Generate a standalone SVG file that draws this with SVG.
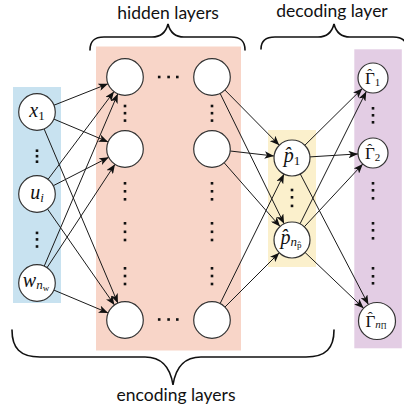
<svg xmlns="http://www.w3.org/2000/svg" width="404" height="409" viewBox="0 0 404 409">
  <style>
    .node { fill: #ffffff; stroke: #333333; stroke-width: 1.2; }
    .edge { stroke: #1a1a1a; stroke-width: 1; fill: none; marker-end: url(#arrow); }
    .brace { stroke: #111111; stroke-width: 1.6; fill: none; stroke-linecap: round; }
    .caption { font-family: Lato, "Liberation Sans", sans-serif; font-size: 17.5px; fill: #111111; text-anchor: middle; }
    .math { font-family: "Liberation Serif", "DejaVu Serif", serif; fill: #111111; text-anchor: middle; font-size: 20px; }
    .gam { font-family: "Liberation Serif", "DejaVu Serif", serif; fill: #111111; font-size: 17px; }
    .it { font-style: italic; }
    .sub { font-size: 13px; }
    .subsub { font-size: 9px; }
    .hat { font-size: 15px; }
    .dot { fill: #111111; }
  </style>
  <defs>
    <marker id="arrow" viewBox="0 0 10 8" refX="10" refY="4" markerWidth="9.5" markerHeight="7.6" markerUnits="userSpaceOnUse" orient="auto">
      <path d="M0,0 L10,4 L0,8 L2.5,4 z" fill="#111111"/>
    </marker>
    <rect id="d" width="2.6" height="2.6"/>
  </defs>

  <!-- layer backgrounds -->
  <rect x="13" y="87" width="48" height="216" fill="#c8e2f0"/>
  <rect x="96" y="46.5" width="145" height="304" fill="#f8d5c8"/>
  <rect x="268" y="130" width="48" height="137" fill="#fbf0cc"/>
  <rect x="354.3" y="49.3" width="47.5" height="299" fill="#e3cde4"/>

  <!-- braces and captions -->
  <g id="brace-hidden">
    <path class="brace" d="M90,50 C90,41 94,37 104,37 L152,37 C161,37 166,32 168,24 C170,32 175,37 184,37 L231,37 C241,37 245,41 245,50"/>
    <text class="caption" x="168" y="19">hidden layers</text>
  </g>
  <g id="brace-decoding">
    <path class="brace" d="M261,49 C261,41 265,37 275,37 L318,37 C327,37 332,32 334,24 C336,32 341,37 350,37 L393,37 C403,37 407,41 407,49"/>
    <text class="caption" x="332" y="17">decoding layer</text>
  </g>
  <g id="brace-encoding">
    <path class="brace" d="M12,330 C12,348 20,357 40,357 L145,357 C160,357 170,365 173,385 C176,365 186,357 201,357 L306,357 C326,357 334,348 334,330"/>
    <text class="caption" x="176" y="401">encoding layers</text>
  </g>

  <!-- connectors -->
  <g id="edges">
    <line class="edge" x1="54.0" y1="105.2" x2="108.0" y2="83.8"/>
    <line class="edge" x1="53.9" y1="119.1" x2="108.1" y2="141.9"/>
    <line class="edge" x1="44.1" y1="128.9" x2="117.9" y2="303.2"/>
    <line class="edge" x1="48.0" y1="179.4" x2="114.0" y2="91.6"/>
    <line class="edge" x1="53.3" y1="185.7" x2="108.7" y2="157.3"/>
    <line class="edge" x1="47.5" y1="209.0" x2="114.5" y2="305.0"/>
    <line class="edge" x1="44.2" y1="266.2" x2="117.8" y2="93.8"/>
    <line class="edge" x1="47.0" y1="267.7" x2="115.0" y2="164.3"/>
    <line class="edge" x1="53.9" y1="290.1" x2="108.1" y2="312.9"/>

    <line class="edge" x1="224.9" y1="90.0" x2="279.3" y2="145.2"/>
    <line class="edge" x1="220.1" y1="93.4" x2="284.1" y2="223.8"/>
    <line class="edge" x1="230.2" y1="151.0" x2="274.1" y2="156.0"/>
    <line class="edge" x1="224.1" y1="162.7" x2="280.1" y2="226.5"/>
    <line class="edge" x1="220.1" y1="303.6" x2="284.0" y2="174.1"/>
    <line class="edge" x1="224.9" y1="307.1" x2="279.3" y2="252.7"/>

    <line class="edge" x1="304.8" y1="145.3" x2="362.3" y2="88.5"/>
    <line class="edge" x1="310.0" y1="156.9" x2="358.0" y2="153.9"/>
    <line class="edge" x1="300.3" y1="174.0" x2="368.4" y2="304.6"/>
    <line class="edge" x1="300.0" y1="223.9" x2="366.3" y2="91.4"/>
    <line class="edge" x1="304.3" y1="226.8" x2="362.8" y2="164.0"/>
    <line class="edge" x1="305.0" y1="252.4" x2="363.6" y2="308.2"/>
  </g>

  <!-- input layer -->
  <g id="in-x1">
    <circle class="node" cx="37" cy="112" r="18.3"/>
    <text class="math" x="37" y="117"><tspan class="it">x</tspan><tspan class="sub" dy="3">1</tspan></text>
  </g>
  <g id="in-ui">
    <circle class="node" cx="37" cy="194" r="18.3"/>
    <text class="math" x="37" y="199"><tspan class="it">u</tspan><tspan class="sub it" dy="3">i</tspan></text>
  </g>
  <g id="in-w">
    <circle class="node" cx="37" cy="283" r="18.3"/>
    <text class="math" x="36" y="287"><tspan class="it">w</tspan><tspan class="sub it" dy="2">n</tspan><tspan class="subsub" dy="2">w</tspan></text>
  </g>
  <g id="in-dots">
    <use href="#d" class="dot" x="35.7" y="149.4"/>
    <use href="#d" class="dot" x="35.7" y="154.9"/>
    <use href="#d" class="dot" x="35.7" y="160.4"/>
    <use href="#d" class="dot" x="35.7" y="231.6"/>
    <use href="#d" class="dot" x="35.7" y="238.1"/>
    <use href="#d" class="dot" x="35.7" y="245.2"/>
  </g>

  <!-- encoding layers -->
  <g id="h-1-1"><circle class="node" cx="125" cy="77" r="18.3"/></g>
  <g id="h-1-2"><circle class="node" cx="125" cy="149" r="18.3"/></g>
  <g id="h-1-n"><circle class="node" cx="125" cy="320" r="18.3"/></g>
  <g id="h-k-1"><circle class="node" cx="212" cy="77" r="18.3"/></g>
  <g id="h-k-2"><circle class="node" cx="212" cy="149" r="18.3"/></g>
  <g id="h-k-n"><circle class="node" cx="212" cy="320" r="18.3"/></g>
  <g id="hidden-dots" class="dot">
    <!-- horizontal ellipses -->
    <use href="#d" x="157.9" y="75.7"/><use href="#d" x="167.3" y="75.7"/><use href="#d" x="176" y="75.7"/>
    <use href="#d" x="157.9" y="318.2"/><use href="#d" x="167.3" y="318.2"/><use href="#d" x="176" y="318.2"/>
    <!-- vertical ellipses, both columns -->
    <use href="#d" x="123.7" y="104.7"/><use href="#d" x="123.7" y="111.9"/><use href="#d" x="123.7" y="119.3"/>
    <use href="#d" x="123.7" y="182"/><use href="#d" x="123.7" y="190"/><use href="#d" x="123.7" y="198"/>
    <use href="#d" x="123.7" y="222"/><use href="#d" x="123.7" y="230.5"/><use href="#d" x="123.7" y="238.7"/>
    <use href="#d" x="123.7" y="267"/><use href="#d" x="123.7" y="274.7"/><use href="#d" x="123.7" y="282.7"/>
    <use href="#d" x="210.7" y="104.7"/><use href="#d" x="210.7" y="111.9"/><use href="#d" x="210.7" y="119.3"/>
    <use href="#d" x="210.7" y="182"/><use href="#d" x="210.7" y="190"/><use href="#d" x="210.7" y="198"/>
    <use href="#d" x="210.7" y="222"/><use href="#d" x="210.7" y="230.5"/><use href="#d" x="210.7" y="238.7"/>
    <use href="#d" x="210.7" y="267"/><use href="#d" x="210.7" y="274.7"/><use href="#d" x="210.7" y="282.7"/>
  </g>

  <!-- latent layer -->
  <g id="p-1">
    <circle class="node" cx="292" cy="158" r="18"/>
    <text class="math" x="292" y="162"><tspan class="it">p̂</tspan><tspan class="sub" dy="3">1</tspan></text>
  </g>
  <g id="p-n">
    <circle class="node" cx="292" cy="240" r="18"/>
    <text class="math" x="291" y="244"><tspan class="it">p̂</tspan><tspan class="sub it" dy="2">n</tspan><tspan class="subsub" dy="2">p̂</tspan></text>
  </g>
  <g id="latent-dots" class="dot">
    <use href="#d" x="290.7" y="188.7"/><use href="#d" x="290.7" y="196"/><use href="#d" x="290.7" y="204.6"/>
  </g>

  <!-- output layer: hat drawn as a raised circumflex over the Gamma -->
  <g id="g-1">
    <circle class="node" cx="373" cy="78" r="15"/>
    <text class="gam" x="365" y="84">Γ<tspan class="hat" dx="-7.7" dy="-5">ˆ</tspan><tspan style="font-size:11px" dx="2.7" dy="7">1</tspan></text>
  </g>
  <g id="g-2">
    <circle class="node" cx="373" cy="153" r="15"/>
    <text class="gam" x="365" y="159">Γ<tspan class="hat" dx="-7.7" dy="-5">ˆ</tspan><tspan style="font-size:11px" dx="2.7" dy="7">2</tspan></text>
  </g>
  <g id="g-n">
    <circle class="node" cx="377" cy="321" r="18.5"/>
    <text class="gam" x="365.5" y="327">Γ<tspan class="hat" dx="-7.7" dy="-5">ˆ</tspan><tspan class="it" style="font-size:11px" dx="2.7" dy="6">n</tspan><tspan style="font-size:8px" dy="1">Π</tspan></text>
  </g>
  <g id="out-dots" class="dot">
    <use href="#d" x="371.7" y="107"/><use href="#d" x="371.7" y="114"/><use href="#d" x="371.7" y="121"/>
    <use href="#d" x="371.7" y="182"/><use href="#d" x="371.7" y="189"/><use href="#d" x="371.7" y="197"/>
    <use href="#d" x="371.7" y="222"/><use href="#d" x="371.7" y="229"/><use href="#d" x="371.7" y="237"/>
    <use href="#d" x="371.7" y="267"/><use href="#d" x="371.7" y="275"/><use href="#d" x="371.7" y="282"/>
  </g>
</svg>
